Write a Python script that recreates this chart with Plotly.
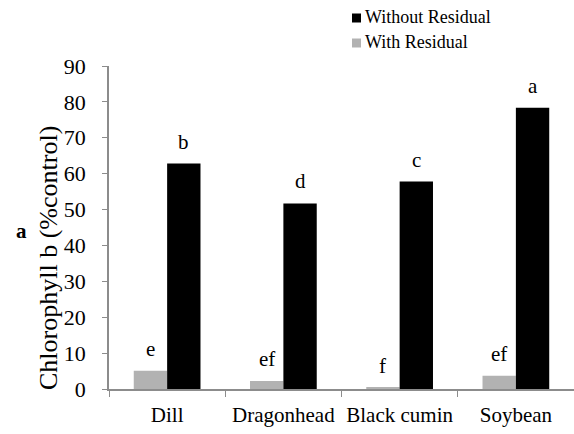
import plotly.graph_objects as go

categories = ["Dill", "Dragonhead", "Black cumin", "Soybean"]
with_residual = [5.1, 2.2, 0.3, 3.7]
without_residual = [62.8, 51.7, 57.8, 78.4]
letters_with = ["e", "ef", "f", "ef"]
letters_without = ["b", "d", "c", "a"]
y_ticks = [0, 10, 20, 30, 40, 50, 60, 70, 80, 90]

W, H = 574, 434
ML, MR, MT, MB = 109, 0, 66, 45
PW, PH = W - ML - MR, H - MT - MB
FONT = "Liberation Serif"
GRAY = "#b2b2b2"
AXIS = "#8c8c8c"
BARGAP = 0.426


def px_x(px):
    return (px - ML) / PW


def px_y(py):
    return (H - MB - py) / PH


fig = go.Figure()
fig.add_trace(go.Bar(x=categories, y=with_residual, name="With Residual",
                     marker=dict(color=GRAY, line=dict(width=0)), showlegend=False))
fig.add_trace(go.Bar(x=categories, y=without_residual, name="Without Residual",
                     marker=dict(color="black", line=dict(width=0)), showlegend=False))

half = (1 - BARGAP) / 4
annotations = []
for i, (lw, lo, vw, vo) in enumerate(zip(letters_with, letters_without, with_residual, without_residual)):
    annotations.append(dict(x=i - half, y=vw, xref="x", yref="y", text=lw, showarrow=False,
                            yanchor="middle", yshift=22, font=dict(family=FONT, size=21, color="black")))
    annotations.append(dict(x=i + half, y=vo, xref="x", yref="y", text=lo, showarrow=False,
                            yanchor="middle", yshift=22, font=dict(family=FONT, size=21, color="black")))

# y-axis title and panel label
annotations.append(dict(x=px_x(48), y=px_y(258), xref="paper", yref="paper",
                        text="Chlorophyll b (%control)", textangle=-90, showarrow=False,
                        xanchor="center", yanchor="middle",
                        font=dict(family=FONT, size=26, color="black")))
annotations.append(dict(x=px_x(21), y=px_y(231), xref="paper", yref="paper",
                        text="<b>a</b>", showarrow=False, xanchor="center", yanchor="middle",
                        font=dict(family=FONT, size=21, color="black")))

# custom legend
legend_items = [("Without Residual", "black", 18), ("With Residual", GRAY, 43)]
shapes = []
for name, col, cy in legend_items:
    shapes.append(dict(type="rect", xref="paper", yref="paper",
                       x0=px_x(352), x1=px_x(361), y0=px_y(cy + 4.5), y1=px_y(cy - 4.5),
                       fillcolor=col, line=dict(width=0)))
    annotations.append(dict(x=px_x(363), y=px_y(cy - 1), xref="paper", yref="paper", text=name,
                            showarrow=False, xanchor="left", yanchor="middle",
                            font=dict(family=FONT, size=18, color="black")))

fig.update_layout(
    width=W, height=H,
    margin=dict(l=ML, r=MR, t=MT, b=MB, pad=0, autoexpand=False),
    paper_bgcolor="white", plot_bgcolor="white",
    barmode="group", bargap=BARGAP, bargroupgap=0,
    font=dict(family=FONT, size=21, color="black"),
    showlegend=False,
    annotations=annotations, shapes=shapes,
    xaxis=dict(type="category", showline=True, linecolor=AXIS, linewidth=1.5,
               ticks="outside", tickson="boundaries", ticklen=6, tickcolor=AXIS, tickwidth=1,
               showgrid=False, tickfont=dict(family=FONT, size=21, color="black"),
               tickangle=0, automargin=False, ticklabelstandoff=6),
    yaxis=dict(range=[0, 90], tickvals=y_ticks, showline=True, linecolor=AXIS, linewidth=1.5,
               ticks="outside", ticklen=5, tickcolor=AXIS, tickwidth=1, showgrid=False,
               zeroline=False, tickfont=dict(family=FONT, size=22, color="black"),
               automargin=False, ticklabelstandoff=12),
)

fig.write_html("out.html")
